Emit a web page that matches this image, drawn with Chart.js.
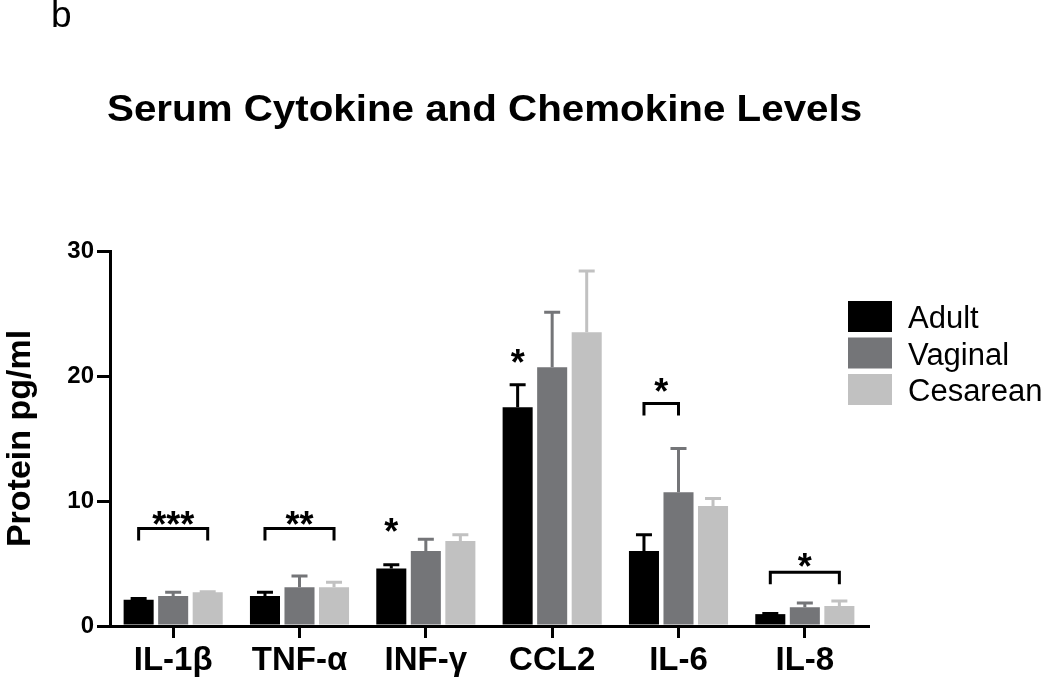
<!DOCTYPE html>
<html>
<head>
<meta charset="utf-8">
<script src="https://cdn.jsdelivr.net/npm/chart.js@4.4.0/dist/chart.umd.min.js"></script>
<style>
    body { margin: 0; background: #fff; }
    #wrap { position: relative; width: 1050px; height: 680px; font-family: "Liberation Sans", Arial, sans-serif; }
    #panel { position: absolute; left: 51px; top: -4px; font-size: 37px; line-height: 1; }
    #title { position: absolute; left: 107px; top: 91px; font-size: 36px; font-weight: bold; line-height: 1; white-space: nowrap; transform: scaleX(1.12); transform-origin: left top; }
    canvas { position: absolute; left: 0; top: 0; }
</style>
</head>
<body>
<div id="wrap">
    <canvas id="chart" width="1050" height="680"></canvas>
    <div id="panel">b</div>
    <div id="title">Serum Cytokine and Chemokine Levels</div>
</div>
<script>
"use strict";

// ===========================
// Data
// ===========================
const categories = ["IL-1β", "TNF-α", "INF-γ", "CCL2", "IL-6", "IL-8"];
const groupNames = ["Adult", "Vaginal", "Cesarean"];
const groupColors = ["#000000", "#747578", "#c1c1c1"];

const adult = [2.1, 2.4, 4.6, 17.5, 6.0, 0.95];
const adultErr = [0.1, 0.3, 0.3, 1.8, 1.3, 0.05];
const vaginal = [2.4, 3.1, 6.0, 20.7, 10.7, 1.5];
const vaginalErr = [0.3, 0.9, 0.95, 4.4, 3.5, 0.35];
const cesarean = [2.7, 3.1, 6.8, 23.5, 9.6, 1.6];
const cesareanErr = [0.05, 0.4, 0.5, 4.9, 0.6, 0.4];

const yTicks = [0, 10, 20, 30];

// significance marks: category, bars spanned, bracket level, star level
const significance = [
    { cat: 0, from: 0, to: 2, bracket: 7.8, star: 8.7, label: "***" },
    { cat: 1, from: 0, to: 2, bracket: 7.8, star: 8.7, label: "**" },
    { cat: 2, from: 0, to: 0, bracket: null, star: 8.2, label: "*" },
    { cat: 3, from: 0, to: 0, bracket: null, star: 21.7, label: "*" },
    { cat: 4, from: 0, to: 1, bracket: 17.8, star: 19.4, label: "*" },
    { cat: 5, from: 0, to: 2, bracket: 4.3, star: 5.4, label: "*" },
];

const values = [adult, vaginal, cesarean];
const errors = [adultErr, vaginalErr, cesareanErr];

Chart.defaults.font.family = "'Liberation Sans', Arial, sans-serif";
Chart.defaults.color = "#000";

// ===========================
// Error bars, brackets, legend
// ===========================
const extrasPlugin = {
    id: "extras",
    afterDatasetsDraw(chart) {
        const ctx = chart.ctx;
        const yScale = chart.scales.y;
        ctx.save();
        ctx.lineWidth = 3;
        ctx.lineCap = "butt";

        // upper error bars
        values.forEach((series, i) => {
            const meta = chart.getDatasetMeta(i);
            ctx.strokeStyle = groupColors[i];
            meta.data.forEach((bar, j) => {
                const yTop = yScale.getPixelForValue(series[j] + errors[i][j]);
                ctx.beginPath();
                ctx.moveTo(bar.x, bar.y);
                ctx.lineTo(bar.x, yTop);
                ctx.moveTo(bar.x - 8, yTop);
                ctx.lineTo(bar.x + 8, yTop);
                ctx.stroke();
            });
        });

        // brackets and stars
        ctx.strokeStyle = "#000";
        ctx.fillStyle = "#000";
        ctx.font = "bold 36px 'Liberation Sans', Arial, sans-serif";
        ctx.textAlign = "center";
        ctx.textBaseline = "alphabetic";
        significance.forEach((s) => {
            const x1 = chart.getDatasetMeta(s.from).data[s.cat].x;
            const x2 = chart.getDatasetMeta(s.to).data[s.cat].x;
            if (s.bracket !== null) {
                const yb = yScale.getPixelForValue(s.bracket);
                ctx.beginPath();
                ctx.moveTo(x1, yb + 12);
                ctx.lineTo(x1, yb);
                ctx.lineTo(x2, yb);
                ctx.lineTo(x2, yb + 12);
                ctx.stroke();
            }
            const ys = yScale.getPixelForValue(s.star);
            ctx.fillText(s.label, (x1 + x2) / 2, ys + 20);
        });

        // legend
        const area = chart.chartArea;
        ctx.font = "31px 'Liberation Sans', Arial, sans-serif";
        ctx.textAlign = "left";
        groupNames.forEach((name, i) => {
            const top = area.top + 50 + i * 36.5;
            ctx.fillStyle = groupColors[i];
            ctx.fillRect(area.right - 20, top, 44, 31);
            ctx.fillStyle = "#000";
            ctx.fillText(name, area.right + 40, top + 27);
        });
        ctx.restore();
    },
};

// ===========================
// Chart
// ===========================
new Chart(document.getElementById("chart"), {
    type: "bar",
    data: {
        labels: categories,
        datasets: values.map((series, i) => ({
            label: groupNames[i],
            data: series,
            backgroundColor: groupColors[i],
            borderWidth: 0,
            categoryPercentage: 0.82,
            barPercentage: 0.87,
        })),
    },
    options: {
        responsive: false,
        animation: false,
        layout: { padding: { top: 251, right: 182, left: 0, bottom: 0 } },
        plugins: {
            legend: { display: false },
            tooltip: { enabled: false },
        },
        scales: {
            x: {
                grid: {
                    drawOnChartArea: false,
                    offset: false,
                    tickLength: 12,
                    lineWidth: 3,
                    tickWidth: 3,
                    tickColor: "#000",
                },
                border: { color: "#000", width: 3 },
                ticks: { color: "#000", padding: 3, font: { size: 33, weight: "bold" } },
                afterFit: (scale) => { scale.height = 54; },
            },
            y: {
                min: 0,
                max: 30,
                afterBuildTicks: (scale) => {
                    scale.ticks = yTicks.map((v) => ({ value: v }));
                },
                grid: {
                    drawOnChartArea: false,
                    tickLength: 13,
                    lineWidth: 3,
                    tickWidth: 3,
                    tickColor: "#000",
                },
                border: { color: "#000", width: 3 },
                ticks: { color: "#000", padding: 3, font: { size: 24, weight: "bold" } },
                title: {
                    display: true,
                    text: "Protein pg/ml",
                    color: "#000",
                    font: { size: 34, weight: "bold" },
                    padding: { top: 0, bottom: 0 },
                },
                afterFit: (scale) => { scale.width = 110; },
            },
        },
    },
    plugins: [extrasPlugin],
});
</script>
</body>
</html>
